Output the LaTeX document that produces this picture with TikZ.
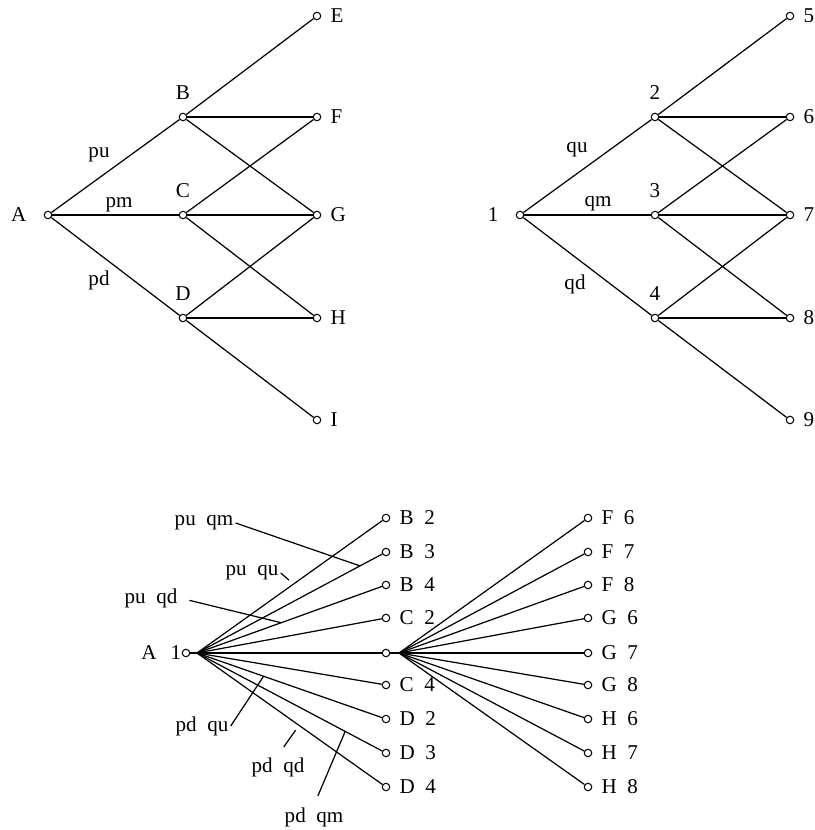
\documentclass[tikz,border=0pt]{standalone}
\usepackage{fontspec}
\setmainfont{Liberation Serif}
\usetikzlibrary{positioning}
\tikzset{
  knot/.style={draw, circle, fill=white, inner sep=0pt, minimum size=0.15cm, line width=0.6pt},
  txt/.style={font=\fontsize{12}{14}\selectfont, inner sep=1pt},
  rootknot/.style={knot, label={[txt, label distance=8.5pt]left:#1}},
  midknot/.style={knot, label={[txt, label distance=6pt]above:#1}},
  leafknot/.style={knot, label={[txt, label distance=4pt]right:#1}},
}
\begin{document}
\begin{tikzpicture}[x=0.02cm, y=-0.02cm, line width=0.7pt]
  \useasboundingbox (0,0) rectangle (814,830);

  % left lattice
  \node[rootknot=A] (A) at (48,215) {};
  \node[midknot=B] (B) at (183,117) {};
  \node[midknot=C] (C) at (183,215) {};
  \node[midknot=D] (D) at (183,318) {};
  \foreach \n/\y in {E/16,F/117,G/215,H/318,I/420}
    \node[leafknot=\n] (\n) at (317,\y) {};
  \foreach \s/\t in {A/B,A/C,A/D,B/E,B/F,B/G,C/F,C/G,C/H,D/G,D/H,D/I}
    \draw (\s) -- (\t);
  \node[txt] (pu) at (99,155) {pu};
  \node[txt] (pm) at (119,205) {pm};
  \node[txt] (pd) at (99,280) {pd};

  % right lattice
  \node[rootknot=1] (n1) at (520,215) {};
  \node[midknot=2] (n2) at (655,117) {};
  \node[midknot=3] (n3) at (655,215) {};
  \node[midknot=4] (n4) at (655,318) {};
  \foreach \n/\y in {5/16,6/117,7/215,8/318,9/420}
    \node[leafknot=\n] (n\n) at (790,\y) {};
  \foreach \s/\t in {1/2,1/3,1/4,2/5,2/6,2/7,3/6,3/7,3/8,4/7,4/8,4/9}
    \draw (n\s) -- (n\t);
  \node[txt] (qu) at (577,150) {qu};
  \node[txt] (qm) at (598,204) {qm};
  \node[txt] (qd) at (575,284) {qd};

  % product tree
  \node[knot, label={[txt, label distance=-1pt]left:A\enskip\,1}] (r) at (186,653) {};
  \coordinate (rh) at (197,653);
  \draw (r) -- (rh);
  \foreach \n/\l/\y in {b2/B\enskip 2/518, b3/B\enskip 3/552, b4/B\enskip 4/585,
                        c2/C\enskip 2/618, c4/C\enskip 4/685, d2/D\enskip 2/719,
                        d3/D\enskip 3/753, d4/D\enskip 4/787}
    \node[leafknot=\l] (\n) at (386,\y) {};
  \node[knot] (c3) at (386,653) {};
  \coordinate (ch) at (399,653);
  \draw (c3) -- (ch);
  \foreach \n in {b2,b3,b4,c2,c3,c4,d2,d3,d4}
    \draw (rh) -- (\n);
  \foreach \n/\l/\y in {f6/F\enskip 6/518, f7/F\enskip 7/552, f8/F\enskip 8/585,
                        g6/G\enskip 6/618, g7/G\enskip 7/653, g8/G\enskip 8/685,
                        h6/H\enskip 6/719, h7/H\enskip 7/753, h8/H\enskip 8/787}
  {
    \node[leafknot=\l] (\n) at (588,\y) {};
    \draw (ch) -- (\n);
  }

  % labels with leaders
  \path (rh) -- coordinate[pos=.88] (lb3) (b3);
  \path (rh) -- coordinate[pos=.52] (lb2) (b2);
  \path (rh) -- coordinate[pos=.455] (lb4) (b4);
  \path (rh) -- coordinate[pos=.36] (ld2) (d2);
  \path (rh) -- coordinate[pos=.55] (ld4) (d4);
  \path (rh) -- coordinate[pos=.80] (ld3) (d3);
  \node[txt] (puqm) at (204,523) {pu\enskip qm};
  \node[txt] (puqu) at (252,573) {pu\enskip qu};
  \node[txt] (puqd) at (151,598) {pu\enskip qd};
  \node[txt] (pdqu) at (202,726) {pd\enskip qu};
  \node[txt] (pdqd) at (278,767) {pd\enskip qd};
  \node[txt] (pdqm) at (314,817) {pd\enskip qm};
  \draw (puqm.east) -- (lb3);
  \draw[shorten >=0.12cm] (puqu.east) -- (lb2);
  \draw[shorten <=0.2cm] (puqd.east) -- (lb4);
  \draw (pdqu.east) -- (ld2);
  \draw[shorten <=0.2cm, shorten >=0.12cm] (pdqd.north) -- (ld4);
  \draw[shorten <=0.2cm] (pdqm.north) -- (ld3);
\end{tikzpicture}
\end{document}
